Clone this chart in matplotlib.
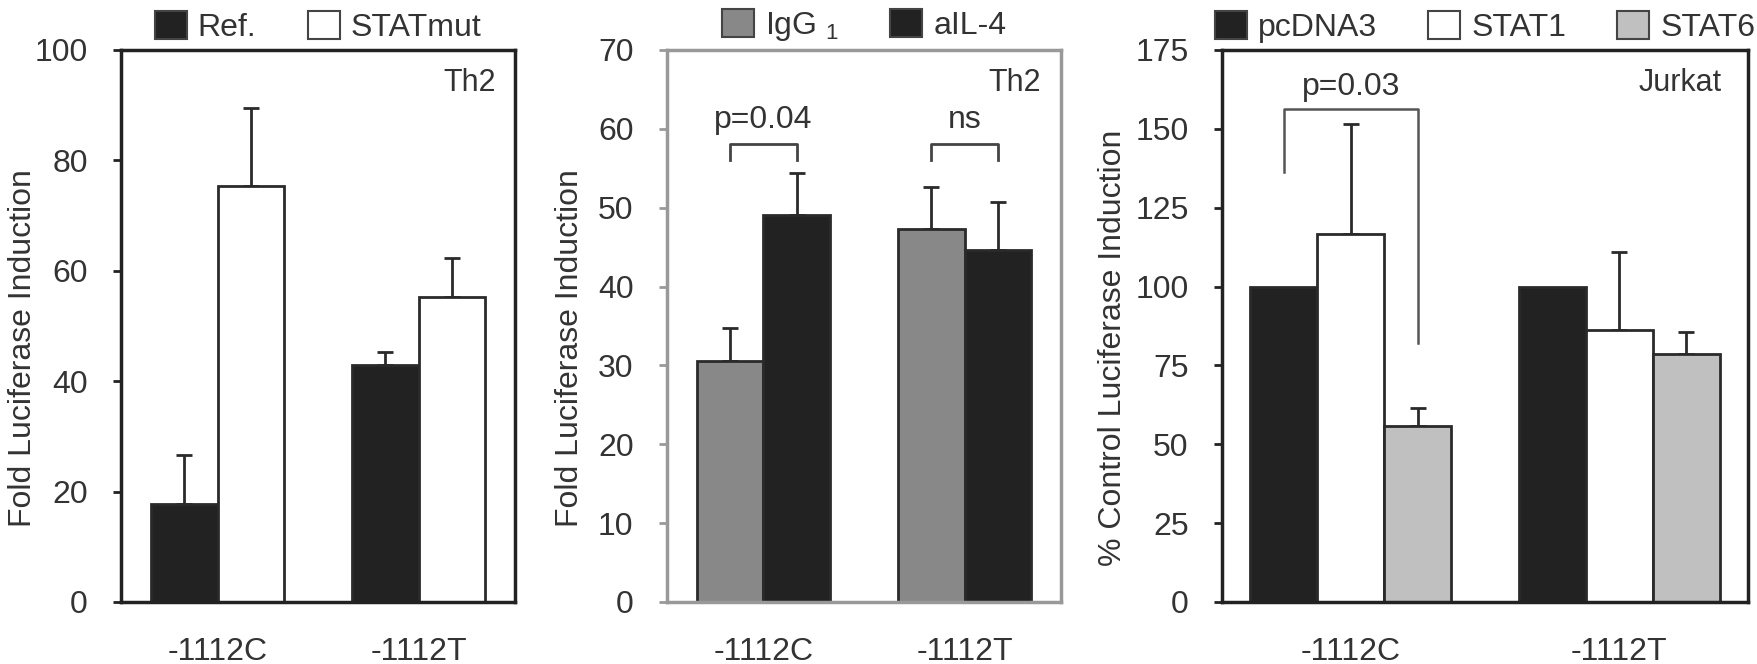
import numpy as np
import matplotlib
matplotlib.use("Agg")
import matplotlib.pyplot as plt
from matplotlib.patches import Patch

plt.rcParams["font.family"] = ["Liberation Sans", "DejaVu Sans"]
plt.rcParams["mathtext.fontset"] = "custom"
plt.rcParams["mathtext.rm"] = "Liberation Sans"

# data
groups = ["-1112C", "-1112T"]

p1_labels = ["Ref.", "STATmut"]
p1_means = [[17.8, 42.9], [75.4, 55.3]]
p1_errs = [[8.9, 2.4], [14.1, 7.1]]

p2_labels = ["IgG $_\\mathregular{1}$", "aIL-4"]
p2_means = [[30.5, 47.3], [49.1, 44.6]]
p2_errs = [[4.2, 5.3], [5.3, 6.1]]
p2_pvals = ["p=0.04", "ns"]

p3_labels = ["pcDNA3", "STAT1", "STAT6"]
p3_means = [[100, 100], [116.7, 86.2], [55.8, 78.5]]
p3_errs = [[0, 0], [34.9, 24.8], [5.8, 7.0]]
p3_pval = "p=0.03"

BLACK = "#222222"
DARK = "#2a2a2a"
TXT = "#333333"
FS = 23

fig = plt.figure(figsize=(17.57, 6.64), dpi=100)
ax1 = fig.add_axes([0.0689, 0.0934, 0.2243, 0.8313])
ax2 = fig.add_axes([0.3796, 0.0934, 0.2243, 0.8313])
ax3 = fig.add_axes([0.6955, 0.0934, 0.2994, 0.8313])


def bars(ax, means, errs, colors, width):
    n = len(means)
    x = np.arange(len(groups))
    for i in range(n):
        off = (i - (n - 1) / 2) * width
        ax.bar(x + off, means[i], width, color=colors[i], edgecolor=DARK,
               linewidth=2, zorder=2)
        e = np.array(errs[i])
        if e.any():
            ax.errorbar(x + off, means[i], yerr=[np.zeros_like(e), e], fmt="none",
                        ecolor=DARK, elinewidth=2, capsize=5.5, capthick=2, zorder=1)
    return x


def style(ax, ylim, step, spine_color, label, tag, label_x):
    ax.set_xlim(-0.48, 1.48)
    ax.set_ylim(0, ylim)
    ax.set_yticks(np.arange(0, ylim + 1, step))
    ax.set_xticks(np.arange(len(groups)))
    ax.set_xticklabels(groups)
    ax.tick_params(axis="x", length=0, pad=25, labelsize=FS, labelcolor=TXT)
    ax.tick_params(axis="y", length=6, width=2, pad=18, labelsize=FS,
                   labelcolor=TXT, color=spine_color)
    for s in ax.spines.values():
        s.set_color(spine_color)
        s.set_linewidth(2.5)
    ax.set_ylabel(label, fontsize=FS, color=TXT, va="center")
    ax.yaxis.set_label_coords(label_x, 0.46)
    ax.text(0.95, 0.94, tag, transform=ax.transAxes, ha="right", va="center",
            fontsize=FS - 1, color=TXT)


def top_legend(ax, labels, colors, cx):
    handles = [Patch(facecolor=c, edgecolor="#444444", linewidth=1.5) for c in colors]
    ax.legend(handles, labels, loc="lower center", bbox_to_anchor=(cx, 0.99),
              ncol=len(labels), frameon=False, fontsize=FS, handlelength=1.0,
              handleheight=1.0, handletextpad=0.35, columnspacing=1.6,
              borderaxespad=0, labelcolor=TXT)


# panel 1
bars(ax1, p1_means, p1_errs, [BLACK, "white"], 0.33)
style(ax1, 100, 20, "#222222", "Fold Luciferase Induction", "Th2", -0.25)
top_legend(ax1, p1_labels, [BLACK, "white"], 0.5)

# panel 2
x2 = bars(ax2, p2_means, p2_errs, ["#888888", BLACK], 0.33)
style(ax2, 70, 10, "#999999", "Fold Luciferase Induction", "Th2", -0.246)
top_legend(ax2, p2_labels, ["#888888", BLACK], 0.5)
for xi, p in zip(x2, p2_pvals):
    xl, xr = xi - 0.165, xi + 0.165
    ax2.plot([xl, xl, xr, xr], [56.1, 58.1, 58.1, 56.1], color="#444444", lw=2)
    ax2.text(xi, 59.2, p, ha="center", va="bottom", fontsize=FS, color=TXT)

# panel 3
x3 = bars(ax3, p3_means, p3_errs, [BLACK, "white", "#c0c0c0"], 0.25)
style(ax3, 175, 25, "#222222", "% Control Luciferase Induction", "Jurkat", -0.207)
top_legend(ax3, p3_labels, [BLACK, "white", "#c0c0c0"], 0.5)
xl, xr = x3[0] - 0.25, x3[0] + 0.25
ax3.plot([xl, xl, xr, xr], [136.4, 156.3, 156.3, 82], color="#555555", lw=1.8)
ax3.text(x3[0], 158.5, p3_pval, ha="center", va="bottom", fontsize=FS, color=TXT)

fig.savefig("out.png", dpi=100)
